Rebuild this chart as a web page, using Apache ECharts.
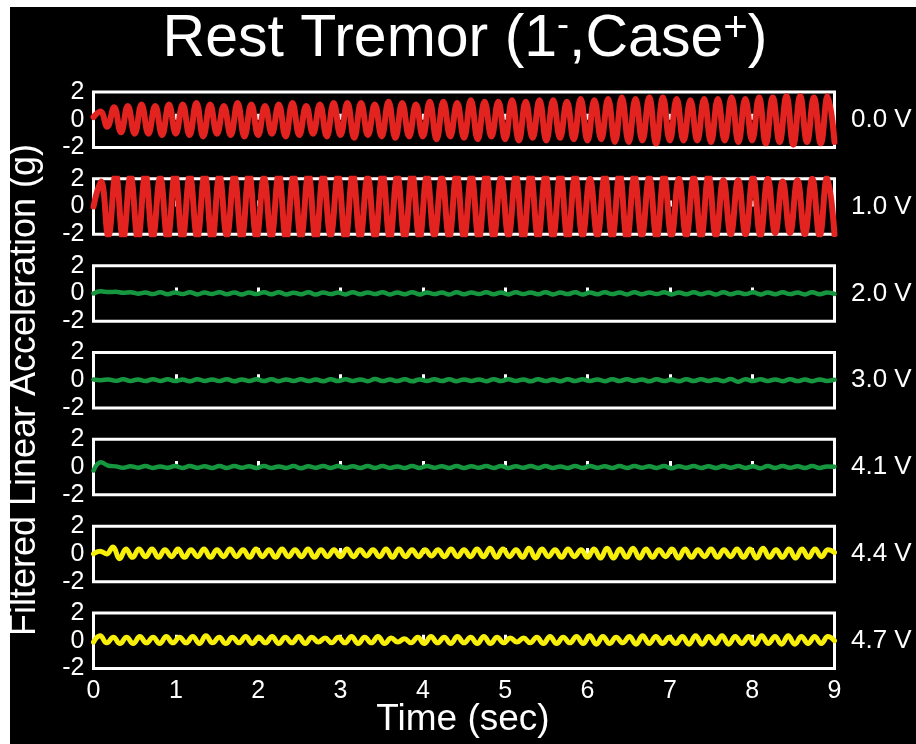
<!DOCTYPE html>
<html>
<head>
<meta charset="utf-8">
<script src="https://cdn.jsdelivr.net/npm/echarts@6/dist/echarts.min.js"></script>
<style>
html,body{margin:0;padding:0;background:#fff;overflow:hidden;}
#bg{position:absolute;left:10px;top:7px;width:906px;height:737px;background:#000;}
#main{position:absolute;left:0;top:0;width:916px;height:744px;}
</style>
</head>
<body>
<div id="bg"></div>
<div id="main"></div>
<script>
// ---------- data ----------
const timeTicks = [0, 1, 2, 3, 4, 5, 6, 7, 8, 9];
const yTicks = [-2, 0, 2];
const stimLabels = ['0.0 V', '1.0 V', '2.0 V', '3.0 V', '4.1 V', '4.4 V', '4.7 V'];
// seconds between successive samples (peaks / troughs) of each trace
const sampleStep = [9 / 108, 9 / 100, 9 / 100, 9 / 100, 9 / 100, 9 / 114, 9 / 112];

const accel_0_0V = [0.2,
  0.6, -0.5, 0.9, -0.9, 1.0, -1.0, 1.1, -1.0, 1.0, -1.1, 1.1, -1.0,
  1.1, -1.1, 1.2, -1.2, 1.1, -1.0, 1.0, -1.1, 1.2, -1.2, 1.1, -1.1,
  1.0, -1.0, 1.1, -1.2, 1.2, -1.1, 1.0, -1.0, 1.1, -1.2, 1.2, -1.1,
  1.2, -1.3, 1.2, -1.1, 1.1, -1.2, 1.3, -1.3, 1.2, -1.2, 1.1, -1.2,
  1.3, -1.4, 1.3, -1.2, 1.2, -1.3, 1.4, -1.4, 1.3, -1.2, 1.3, -1.4,
  1.4, -1.5, 1.3, -1.3, 1.4, -1.5, 1.4, -1.3, 1.3, -1.4, 1.5, -1.5,
  1.4, -1.4, 1.5, -1.6, 1.6, -1.6, 1.5, -1.5, 1.6, -1.7, 1.6, -1.5,
  1.5, -1.5, 1.4, -1.5, 1.5, -1.6, 1.5, -1.5, 1.6, -1.6, 1.5, -1.5,
  1.6, -1.7, 1.6, -1.6, 1.7, -1.8, 1.7, -1.6, 1.6, -1.7, 1.7, -1.6];

const accel_1_0V = [0.0,
  1.8, -2.1, 2.3, -2.3, 2.2, -2.3, 2.3, -2.2, 2.1, -2.3,
  2.3, -2.3, 2.2, -2.2, 2.3, -2.4, 2.2, -2.1, 2.2, -2.3,
  2.3, -2.2, 2.1, -2.2, 2.3, -2.3, 2.2, -2.2, 2.3, -2.3,
  2.2, -2.1, 2.2, -2.3, 2.3, -2.2, 2.1, -2.2, 2.3, -2.3,
  2.2, -2.2, 2.3, -2.3, 2.2, -2.1, 2.1, -2.2, 2.3, -2.2,
  2.2, -2.3, 2.3, -2.2, 2.1, -2.1, 2.2, -2.3, 2.3, -2.2,
  2.2, -2.2, 2.3, -2.3, 2.2, -2.1, 2.0, -2.1, 2.2, -2.2,
  2.3, -2.3, 2.2, -2.1, 2.1, -2.2, 2.2, -2.1, 2.0, -2.1,
  2.1, -2.2, 2.2, -2.1, 1.9, -2.0, 1.9, -2.0, 2.1, -2.1,
  2.0, -1.9, 1.8, -1.9, 1.9, -2.0, 2.0, -2.1, 2.1, -2.0];

const accel_2_0V = [0.0,
  0.15, 0.10, 0.12, 0.05, 0.08, -0.02, 0.06, -0.05, 0.08, -0.06,
  0.07, -0.05, 0.08, -0.07, 0.06, -0.04, 0.09, -0.06, 0.07, -0.08,
  0.06, -0.05, 0.08, -0.06, 0.09, -0.07, 0.05, -0.06, 0.08, -0.08,
  0.07, -0.05, 0.06, -0.07, 0.08, -0.06, 0.07, -0.05, 0.09, -0.07,
  0.06, -0.06, 0.08, -0.07, 0.07, -0.05, 0.06, -0.08, 0.09, -0.06,
  0.07, -0.05, 0.08, -0.06, 0.06, -0.07, 0.08, -0.05, 0.07, -0.06,
  0.08, -0.07, 0.06, -0.05, 0.09, -0.08, 0.07, -0.06, 0.08, -0.05,
  0.06, -0.07, 0.09, -0.06, 0.07, -0.05, 0.08, -0.07, 0.06, -0.06,
  0.08, -0.06, 0.07, -0.08, 0.09, -0.06, 0.06, -0.05, 0.08, -0.07,
  0.07, -0.06, 0.08, -0.05, 0.06, -0.07, 0.09, -0.06, 0.07, -0.04];

const accel_3_0V = [0.05,
  0.0, 0.06, -0.04, 0.07, -0.05, 0.06, -0.06, 0.08, -0.05, 0.07,
  -0.06, 0.05, -0.07, 0.08, -0.05, 0.06, -0.06, 0.07, -0.08, 0.06,
  -0.05, 0.07, -0.06, 0.08, -0.07, 0.06, -0.05, 0.07, -0.06, 0.05,
  -0.07, 0.08, -0.06, 0.07, -0.05, 0.06, -0.07, 0.09, -0.06, 0.05,
  -0.06, 0.07, -0.08, 0.06, -0.05, 0.07, -0.06, 0.08, -0.07, 0.06,
  -0.05, 0.06, -0.07, 0.08, -0.06, 0.07, -0.05, 0.06, -0.08, 0.07,
  -0.06, 0.05, -0.07, 0.08, -0.06, 0.07, -0.05, 0.06, -0.07, 0.08,
  -0.06, 0.07, -0.05, 0.06, -0.08, 0.07, -0.06, 0.05, -0.07, 0.08,
  -0.06, 0.07, -0.05, 0.06, -0.07, 0.09, -0.10, 0.08, -0.06, 0.07,
  -0.05, 0.06, -0.07, 0.08, -0.06, 0.05, -0.07, 0.06, -0.05, 0.04];

const accel_4_1V = [-0.25,
  0.35, 0.10, 0.05, -0.05, 0.06, -0.04, 0.07, -0.06, 0.05, -0.05,
  0.07, -0.06, 0.08, -0.05, 0.06, -0.07, 0.08, -0.06, 0.07, -0.05,
  0.06, -0.07, 0.08, -0.06, 0.05, -0.06, 0.07, -0.08, 0.06, -0.05,
  0.08, -0.06, 0.07, -0.05, 0.06, -0.07, 0.08, -0.06, 0.07, -0.06,
  0.05, -0.07, 0.08, -0.06, 0.07, -0.05, 0.06, -0.06, 0.08, -0.07,
  0.06, -0.05, 0.07, -0.06, 0.08, -0.07, 0.06, -0.05, 0.07, -0.06,
  0.08, -0.06, 0.05, -0.07, 0.07, -0.06, 0.08, -0.05, 0.06, -0.07,
  0.07, -0.06, 0.08, -0.05, 0.06, -0.06, 0.07, -0.08, 0.06, -0.05,
  0.07, -0.06, 0.06, -0.07, 0.08, -0.05, 0.07, -0.06, 0.06, -0.09,
  0.08, -0.06, 0.07, -0.05, 0.06, -0.07, 0.08, -0.06, 0.05, 0.03];

const accel_4_4V = [0.0,
  0.2, 0.0, 0.5, -0.35, 0.35, -0.25, 0.35, -0.2, 0.35, -0.25, 0.3, -0.2,
  0.35, -0.25, 0.3, -0.2, 0.35, -0.25, 0.3, -0.2, 0.35, -0.2, 0.3, -0.25,
  0.35, -0.2, 0.3, -0.25, 0.35, -0.2, 0.3, -0.2, 0.35, -0.25, 0.3, -0.2,
  0.3, -0.2, 0.35, -0.2, 0.3, -0.15, 0.3, -0.2, 0.35, -0.25, 0.35, -0.2,
  0.3, -0.2, 0.3, -0.15, 0.3, -0.2, 0.35, -0.2, 0.3, -0.2, 0.35, -0.2,
  0.4, -0.25, 0.35, -0.2, 0.3, -0.25, 0.4, -0.3, 0.35, -0.2, 0.3, -0.25,
  0.35, -0.2, 0.3, -0.25, 0.35, -0.3, 0.4, -0.3, 0.35, -0.25, 0.4, -0.3,
  0.35, -0.25, 0.3, -0.2, 0.35, -0.3, 0.35, -0.25, 0.3, -0.2, 0.35, -0.25,
  0.3, -0.2, 0.35, -0.25, 0.35, -0.3, 0.4, -0.25, 0.3, -0.25, 0.35, -0.3,
  0.35, -0.25, 0.35, -0.2, 0.3, 0.1];

const accel_4_7V = [-0.1,
  0.35, -0.15, 0.25, -0.2, 0.25, -0.2, 0.3, -0.15, 0.25, -0.2, 0.3, -0.15,
  0.25, -0.15, 0.3, -0.2, 0.35, -0.15, 0.25, -0.2, 0.25, -0.15, 0.3, -0.2,
  0.25, -0.15, 0.3, -0.2, 0.25, -0.15, 0.3, -0.2, 0.25, -0.1, 0.2, -0.15,
  0.25, -0.15, 0.3, -0.2, 0.25, -0.15, 0.3, -0.2, 0.2, -0.1, 0.15, -0.15,
  0.25, -0.2, 0.3, -0.15, 0.25, -0.2, 0.3, -0.15, 0.25, -0.2, 0.3, -0.2,
  0.25, -0.15, 0.2, -0.1, 0.2, -0.15, 0.25, -0.2, 0.3, -0.2, 0.25, -0.15,
  0.3, -0.2, 0.35, -0.25, 0.3, -0.2, 0.25, -0.15, 0.3, -0.25, 0.35, -0.2,
  0.3, -0.2, 0.25, -0.2, 0.3, -0.25, 0.35, -0.25, 0.3, -0.2, 0.35, -0.25,
  0.3, -0.2, 0.3, -0.25, 0.35, -0.2, 0.3, -0.25, 0.35, -0.25, 0.3, -0.2,
  0.3, -0.2, 0.3, 0.0];

const traces = [accel_0_0V, accel_1_0V, accel_2_0V, accel_3_0V, accel_4_1V, accel_4_4V, accel_4_7V];

// ---------- styles / layout ----------
const traceColors = ['#e3231f', '#e3231f', '#16973f', '#16973f', '#16973f', '#f7ef0a', '#f7ef0a'];
const traceWidths = [6, 6, 4.5, 4.5, 4.5, 5, 5];
const FONT = '"Liberation Sans", Arial, Helvetica, sans-serif';
const gridLeft = 93.5, gridWidth = 741, gridTop0 = 92, gridStep = 86.83, gridHeight = 55.5;

const grids = [], xAxes = [], yAxes = [], series = [];
traces.forEach((vals, i) => {
  grids.push({
    left: gridLeft, width: gridWidth, top: gridTop0 + i * gridStep, height: gridHeight,
    show: true, borderColor: '#fff', borderWidth: 3, backgroundColor: 'transparent', containLabel: false
  });
  xAxes.push({
    type: 'value', gridIndex: i, min: timeTicks[0], max: timeTicks[timeTicks.length - 1], interval: 1,
    axisLine: { show: false },
    axisTick: { show: true, inside: true, length: 6, lineStyle: { color: '#fff', width: 3 } },
    splitLine: { show: false },
    axisLabel: { show: i === traces.length - 1, color: '#fff', fontSize: 25, fontFamily: FONT, margin: 10 }
  });
  yAxes.push({
    type: 'value', gridIndex: i, min: yTicks[0], max: yTicks[yTicks.length - 1], interval: 2,
    axisLine: { show: false }, axisTick: { show: false }, splitLine: { show: false },
    axisLabel: { color: '#fff', fontSize: 25, fontFamily: FONT, margin: 9 }
  });
  const step = sampleStep[i];
  series.push({
    type: 'line', xAxisIndex: i, yAxisIndex: i,
    data: vals.map((v, k) => [k * step, v]),
    showSymbol: false, smooth: 0.45, clip: true,
    lineStyle: { color: traceColors[i], width: traceWidths[i], cap: 'round', join: 'round' },
    z: 5
  });
});

const graphics = [];
graphics.push({
  type: 'text', x: 465, y: 40,
  style: {
    text: '{a|Rest Tremor (1}{s|-}{a|,Case}{p|+}{a|)}',
    align: 'center', verticalAlign: 'middle',
    rich: {
      a: { fontSize: 59, fontFamily: FONT, fill: '#fff', color: '#fff', lineHeight: 64 },
      s: { fontSize: 36, fontFamily: FONT, fill: '#fff', color: '#fff', lineHeight: 34, verticalAlign: 'top' },
      p: { fontSize: 42, fontFamily: FONT, fill: '#fff', color: '#fff', lineHeight: 30, verticalAlign: 'top' }
    }
  }
});
graphics.push({
  type: 'text', x: 25, y: 390, rotation: Math.PI / 2,
  style: { text: 'Filtered Linear Acceleration (g)', fontSize: 36, fontFamily: FONT, fill: '#fff', align: 'center', verticalAlign: 'middle' }
});
graphics.push({
  type: 'text', x: 463, y: 720,
  style: { text: 'Time (sec)', fontSize: 37, fontFamily: FONT, fill: '#fff', align: 'center', verticalAlign: 'middle' }
});
stimLabels.forEach((t, i) => {
  graphics.push({
    type: 'text', x: 851, y: gridTop0 + i * gridStep + gridHeight / 2,
    style: { text: t, fontSize: 26, fontFamily: FONT, fill: '#fff', align: 'left', verticalAlign: 'middle' }
  });
});

const chart = echarts.init(document.getElementById('main'), null, { renderer: 'canvas' });
chart.setOption({
  backgroundColor: 'transparent',
  animation: false,
  grid: grids,
  xAxis: xAxes,
  yAxis: yAxes,
  series: series,
  graphic: graphics
});
</script>
</body>
</html>
